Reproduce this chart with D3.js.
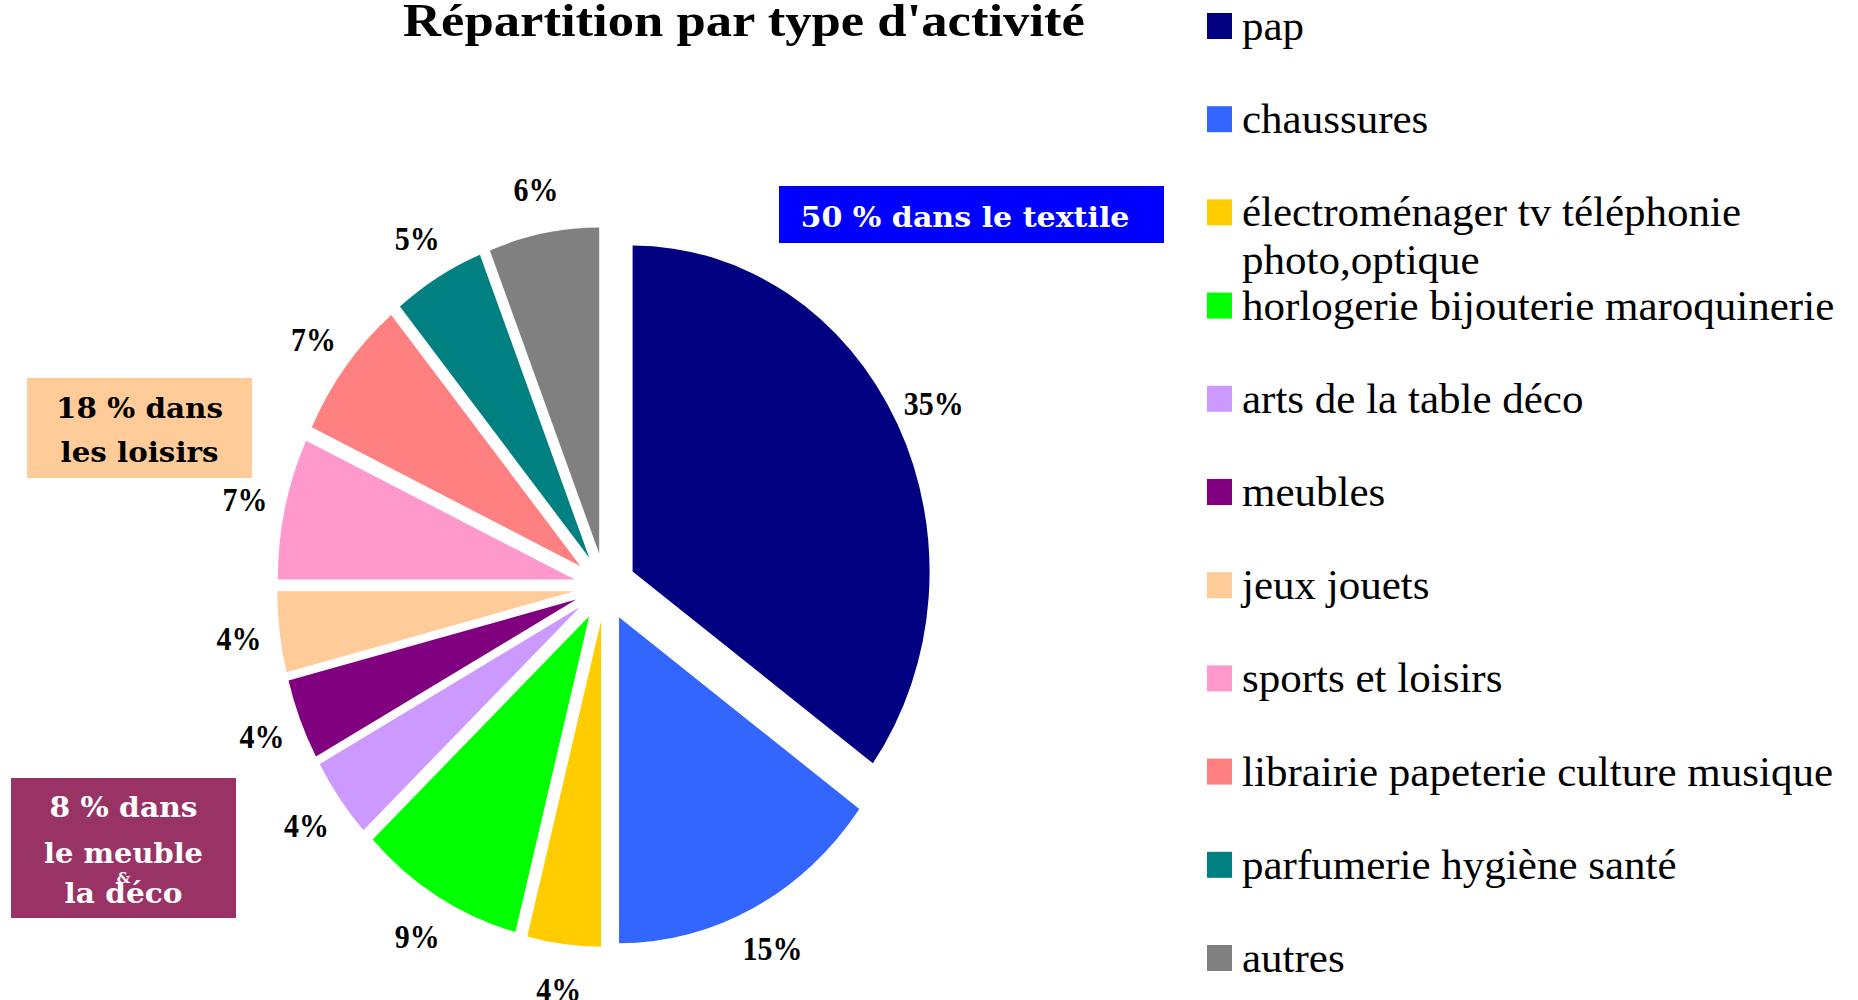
<!DOCTYPE html>
<html>
<head>
<meta charset="utf-8">
<script src="https://cdn.jsdelivr.net/npm/d3@7"></script>
<style>
    body { margin: 0; background: #fff; }
    svg { display: block; }
</style>
</head>
<body>
<svg id="chart"></svg>
<script>
const CATEGORIES = [
    "pap",
    "chaussures",
    "électroménager tv téléphonie photo,optique",
    "horlogerie bijouterie maroquinerie",
    "arts de la table déco",
    "meubles",
    "jeux jouets",
    "sports et loisirs",
    "librairie papeterie culture musique",
    "parfumerie hygiène santé",
    "autres"
];
const VALUES = [35, 15, 4, 9, 4, 4, 4, 7, 7, 5, 6];
const COLORS = ["#000080", "#3366FF", "#FFCC00", "#00FF00", "#CC99FF", "#800080",
    "#FFCC99", "#FF99CC", "#FF8080", "#008080", "#808080"];

const TITLE = "Répartition par type d'activité";

// call-out boxes : lines of text, box fill, text colour
const NOTE_LINES = [
    ["50 % dans le textile"],
    ["18 % dans", "les loisirs"],
    ["8 % dans", "le meuble", "&", "la déco"]
];
const NOTE_FILLS = ["#0000FF", "#FFCC99", "#993366"];
const NOTE_TEXT = ["#FFFFFF", "#000000", "#FFFFFF"];

const WIDTH = 1858;
const HEIGHT = 1000;
const CX = 605;
const CY = 587;
const R = 326;
const SX = 0.911;     // pie is squeezed horizontally
const EXPLODE = 34;
const LABEL_R = 405;

let svg = d3.select("#chart")
    .attr("width", WIDTH)
    .attr("height", HEIGHT);

let pie = d3.pie().sort(null).value(function (d) { return d; });
let arcs = pie(VALUES);
let arc = d3.arc().innerRadius(0).outerRadius(R);

function mid(d) {
    return (d.startAngle + d.endAngle) / 2;
}

// slices
let pieG = svg.append("g")
    .attr("transform", "translate(" + CX + "," + CY + ") scale(" + SX + ",1)");

pieG.selectAll("path")
    .data(arcs)
    .enter()
    .append("path")
    .attr("d", arc)
    .attr("transform", function (d) {
        let a = mid(d);
        return "translate(" + (Math.sin(a) * EXPLODE) + "," + (-Math.cos(a) * EXPLODE) + ")";
    })
    .style("fill", function (d, i) { return COLORS[i]; })
    .style("stroke", "none");

// percentage labels (narrow, tall serif like the original)
svg.append("g").selectAll("text")
    .data(arcs)
    .enter()
    .append("text")
    .text(function (d) { return d.value + "%"; })
    .attr("transform", function (d) {
        let x = CX + SX * LABEL_R * Math.sin(mid(d));
        let y = CY - LABEL_R * Math.cos(mid(d));
        return "translate(" + x + "," + y + ") scale(0.88,1)";
    })
    .attr("dy", "0.35em")
    .attr("font-family", "'Liberation Serif', serif")
    .attr("font-weight", "bold")
    .attr("font-size", "34px")
    .attr("fill", "#000")
    .style("text-anchor", "middle");

// title
svg.append("text")
    .text(TITLE)
    .attr("x", 403)
    .attr("y", 36)
    .attr("textLength", 682)
    .attr("lengthAdjust", "spacingAndGlyphs")
    .attr("font-family", "'Liberation Serif', serif")
    .attr("font-weight", "bold")
    .attr("font-size", "47px")
    .attr("fill", "#000");

// legend
const LEG_X = 1207;
const LEG_Y = 13;
const LEG_STEP = 93.2;
const LEG_MAXW = 640;

let legend = svg.append("g");
CATEGORIES.forEach(function (name, i) {
    let y0 = LEG_Y + i * LEG_STEP;
    legend.append("rect")
        .attr("x", LEG_X)
        .attr("y", y0)
        .attr("width", 25)
        .attr("height", 26)
        .style("fill", COLORS[i]);

    let t = legend.append("text")
        .attr("x", LEG_X + 35)
        .attr("y", y0 + 27)
        .attr("font-family", "'Liberation Serif', serif")
        .attr("font-size", "43px")
        .attr("fill", "#000");

    // wrap long names like the original legend
    let words = name.split(" ");
    let line = [];
    let tspan = t.append("tspan").attr("x", LEG_X + 35);
    words.forEach(function (w) {
        line.push(w);
        tspan.text(line.join(" "));
        if (tspan.node().getComputedTextLength() > LEG_MAXW && line.length > 1) {
            line.pop();
            tspan.text(line.join(" "));
            line = [w];
            tspan = t.append("tspan")
                .attr("x", LEG_X + 35)
                .attr("dy", 48)
                .text(w);
        }
    });
});

// call-out boxes
const NOTE_BOX = [
    { x: 779, y: 186, w: 385, h: 57 },
    { x: 27, y: 378, w: 225, h: 100 },
    { x: 11, y: 778, w: 225, h: 140 }
];
const NOTE_BASE = [[227], [418, 462], [817, 863, 883, 903]];
const NOTE_LEN = [[329], [167, 158], [148, 159, 0, 118]];

NOTE_LINES.forEach(function (lines, k) {
    let b = NOTE_BOX[k];
    let g = svg.append("g");
    g.append("rect")
        .attr("x", b.x)
        .attr("y", b.y)
        .attr("width", b.w)
        .attr("height", b.h)
        .style("fill", NOTE_FILLS[k]);
    lines.forEach(function (s, j) {
        let cx = k === 0 ? 965 : b.x + b.w / 2;
        let tx = g.append("text")
            .text(s)
            .attr("x", cx)
            .attr("y", NOTE_BASE[k][j])
            .attr("font-family", "'DejaVu Serif', serif")
            .attr("font-weight", "bold")
            .attr("font-size", s === "&" ? "15px" : "27px")
            .attr("fill", NOTE_TEXT[k])
            .style("text-anchor", "middle");
        if (NOTE_LEN[k][j] > 0) {
            tx.attr("textLength", NOTE_LEN[k][j])
                .attr("lengthAdjust", "spacingAndGlyphs");
        }
    });
});
</script>
</body>
</html>
